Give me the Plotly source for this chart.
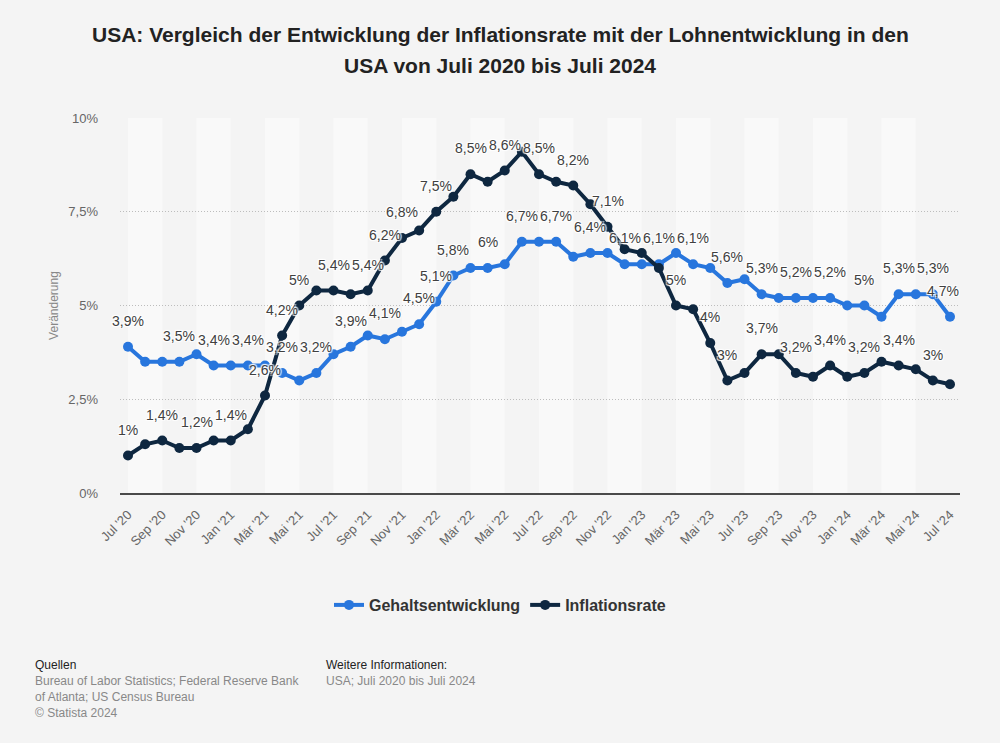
import plotly.graph_objects as go

# ---------------- data ----------------
months = ["Jul '20", "Aug '20", "Sep '20", "Okt '20", "Nov '20", "Dez '20",
          "Jan '21", "Feb '21", "Mär '21", "Apr '21", "Mai '21", "Jun '21",
          "Jul '21", "Aug '21", "Sep '21", "Okt '21", "Nov '21", "Dez '21",
          "Jan '22", "Feb '22", "Mär '22", "Apr '22", "Mai '22", "Jun '22",
          "Jul '22", "Aug '22", "Sep '22", "Okt '22", "Nov '22", "Dez '22",
          "Jan '23", "Feb '23", "Mär '23", "Apr '23", "Mai '23", "Jun '23",
          "Jul '23", "Aug '23", "Sep '23", "Okt '23", "Nov '23", "Dez '23",
          "Jan '24", "Feb '24", "Mär '24", "Apr '24", "Mai '24", "Jun '24",
          "Jul '24"]

gehalt = [3.9, 3.5, 3.5, 3.5, 3.7, 3.4, 3.4, 3.4, 3.4, 3.2, 3.0, 3.2,
          3.7, 3.9, 4.2, 4.1, 4.3, 4.5, 5.1, 5.8, 6.0, 6.0, 6.1, 6.7,
          6.7, 6.7, 6.3, 6.4, 6.4, 6.1, 6.1, 6.1, 6.4, 6.1, 6.0, 5.6,
          5.7, 5.3, 5.2, 5.2, 5.2, 5.2, 5.0, 5.0, 4.7, 5.3, 5.3, 5.3, 4.7]

inflation = [1.0, 1.3, 1.4, 1.2, 1.2, 1.4, 1.4, 1.7, 2.6, 4.2, 5.0, 5.4,
             5.4, 5.3, 5.4, 6.2, 6.8, 7.0, 7.5, 7.9, 8.5, 8.3, 8.6, 9.1,
             8.5, 8.3, 8.2, 7.7, 7.1, 6.5, 6.4, 6.0, 5.0, 4.9, 4.0, 3.0,
             3.2, 3.7, 3.7, 3.2, 3.1, 3.4, 3.1, 3.2, 3.5, 3.4, 3.3, 3.0, 2.9]

# which points carry a visible value label (as in the original)
gehalt_labels = [0, 3, 5, 7, 9, 11, 13, 15, 17, 18, 19, 21, 23, 25, 27, 29,
                 31, 33, 35, 37, 39, 41, 43, 45, 47, 48]
inflation_labels = [0, 2, 4, 6, 8, 9, 10, 12, 14, 15, 16, 18, 20, 22, 24, 26,
                    28, 32, 34, 35, 37, 39, 41, 43, 45, 47]

y_ticks = [0, 2.5, 5, 7.5, 10]
y_ticktext = ["0%", "2,5%", "5%", "7,5%", "10%"]

title_lines = ["USA: Vergleich der Entwicklung der Inflationsrate mit der Lohnentwicklung in den",
               "USA von Juli 2020 bis Juli 2024"]

# ---------------- styling ----------------
BLUE = "#2876dd"
NAVY = "#0e2740"
BG = "#f4f4f4"
BAND = "#f9f9f9"
FONT = "Liberation Sans, Arial, sans-serif"

W, H = 1000, 743
L, R, T, B = 120, 40, 118, 250
PW, PH = W - L - R, H - T - B


def px_to_paper_x(px):
    return (px - L) / PW


def px_to_paper_y(py):
    return (H - B - py) / PH


def fmt(v):
    s = f"{v:.1f}".replace(".", ",")
    if s.endswith(",0"):
        s = s[:-2]
    return s + "%"


x = list(range(len(months)))
n = len(months)
fig = go.Figure()

fig.add_trace(go.Scatter(
    x=x, y=gehalt, name="Gehaltsentwicklung", mode="lines+markers",
    line=dict(color=BLUE, width=4), marker=dict(color=BLUE, size=10),
    customdata=months, hovertemplate="%{customdata}: %{y}%<extra></extra>"))
fig.add_trace(go.Scatter(
    x=x, y=inflation, name="Inflationsrate", mode="lines+markers",
    line=dict(color=NAVY, width=4), marker=dict(color=NAVY, size=10),
    customdata=months, hovertemplate="%{customdata}: %{y}%<extra></extra>"))

halo = "1px 1px 1px #fff, -1px -1px 1px #fff, 1px -1px 1px #fff, -1px 1px 1px #fff"
annotations = []
for series, idxs in ((gehalt, gehalt_labels), (inflation, inflation_labels)):
    for i in idxs:
        annotations.append(dict(
            x=i, y=series[i], xref="x", yref="y", text=fmt(series[i]),
            showarrow=False, yshift=26, xshift=-7 if i == n - 1 else 0,
            font=dict(size=14, color="#404040", family=FONT, shadow=halo)))

# title
for k, line in enumerate(title_lines):
    annotations.append(dict(
        x=px_to_paper_x(500), y=px_to_paper_y(35 + 31 * k), xref="paper", yref="paper",
        text=f"<b>{line}</b>", showarrow=False, xanchor="center", yanchor="middle",
        font=dict(size=21, color="#222222", family=FONT)))

# footer
footer = [
    (33, 665, "Quellen", "#222222"),
    (33, 681, "Bureau of Labor Statistics; Federal Reserve Bank", "#888888"),
    (33, 697, "of Atlanta; US Census Bureau", "#888888"),
    (33, 713, "© Statista 2024", "#888888"),
    (324, 665, "Weitere Informationen:", "#222222"),
    (324, 681, "USA; Juli 2020 bis Juli 2024", "#888888"),
]
for fx, fy, txt, col in footer:
    annotations.append(dict(
        x=px_to_paper_x(fx), y=px_to_paper_y(fy), xref="paper", yref="paper",
        text=txt, showarrow=False, xanchor="left", yanchor="middle",
        font=dict(size=12, color=col, family=FONT)))

# alternating background bands (two months wide)
shapes = []
for start in range(0, n - 1, 4):
    shapes.append(dict(type="rect", xref="x", yref="paper", x0=start, x1=start + 2,
                       y0=0, y1=1, fillcolor=BAND, line=dict(width=0), layer="below"))

fig.update_layout(
    width=W, height=H, autosize=False,
    margin=dict(l=L, r=R, t=T, b=B),
    paper_bgcolor=BG, plot_bgcolor=BG,
    font=dict(family=FONT, color="#666666"),
    showlegend=True,
    legend=dict(orientation="h", xref="container", yref="container",
                x=0.5, xanchor="center", y=1 - 605 / H, yanchor="middle",
                font=dict(size=16, color="#333333", family=FONT, weight="bold"),
                itemwidth=30, bgcolor="rgba(0,0,0,0)"),
    annotations=annotations,
    shapes=shapes,
    hovermode="closest",
)

fig.update_xaxes(
    range=[-8 / 17.125, (n - 1) + 10 / 17.125],
    tickmode="array", tickvals=x[::2], ticktext=months[::2],
    tickangle=-45, tickfont=dict(size=13, color="#666666", family=FONT),
    showgrid=False, zeroline=False,
    showline=True, linecolor="#4a4a4a", linewidth=2,
    ticks="", ticklabelstandoff=7)

fig.update_yaxes(
    range=[0, 10], tickmode="array", tickvals=y_ticks, ticktext=y_ticktext,
    tickfont=dict(size=13, color="#666666", family=FONT),
    showgrid=True, gridcolor="#bdbdbd", gridwidth=1, griddash="1px,2px",
    zeroline=False, showline=False, ticks="", ticklabelstandoff=21,
    title=dict(text="Veränderung", font=dict(size=12, color="#888888", family=FONT),
               standoff=7))

fig.write_html("out.html")
